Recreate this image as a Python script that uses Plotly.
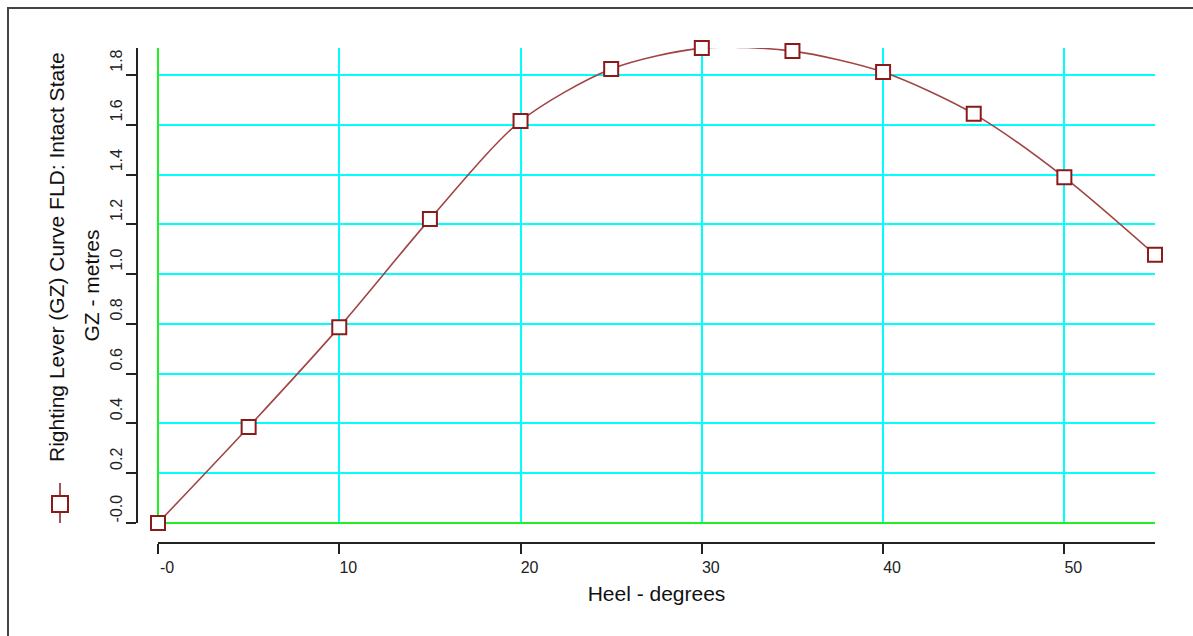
import plotly.graph_objects as go

# ---- data ----
heel_deg = [0, 5, 10, 15, 20, 25, 30, 35, 40, 45, 50, 55]
gz_m = [0.0, 0.386, 0.787, 1.221, 1.615, 1.824, 1.908, 1.896, 1.812, 1.644, 1.389, 1.078]
x_tickvals = [0, 10, 20, 30, 40, 50]
x_ticktext = ["-0", "10", "20", "30", "40", "50"]
y_tickvals = [0.0, 0.2, 0.4, 0.6, 0.8, 1.0, 1.2, 1.4, 1.6, 1.8]
y_ticktext = ["-0.0", "0.2", "0.4", "0.6", "0.8", "1.0", "1.2", "1.4", "1.6", "1.8"]
series_name = "Righting Lever (GZ) Curve FLD: Intact State"
x_title = "Heel - degrees"
y_title = "GZ - metres"

# ---- layout geometry (pixels) ----
W, H = 1193, 636
PL, PR, PT, PB = 137, 1155, 48, 543   # plot area edges
XD0 = 158                              # x domain start
YD0 = 523                              # y domain bottom
pw, ph = PR - PL, PB - PT

def px(xp):
    return (xp - PL) / pw

def py(yp):
    return (PB - yp) / ph

FONT = "Liberation Sans, Arial, sans-serif"
RED = "#8b1a1a"

fig = go.Figure()
fig.add_trace(go.Scatter(
    x=heel_deg, y=gz_m, name=series_name, mode="lines+markers",
    line=dict(color="#a04545", width=1.6, shape="spline", smoothing=0.8),
    marker=dict(symbol="square", size=14, color="white",
                line=dict(color=RED, width=2)),
    showlegend=False, cliponaxis=False,
))

fig.update_layout(
    width=W, height=H,
    margin=dict(l=PL, r=W - PR, t=PT, b=H - PB, pad=0),
    paper_bgcolor="white", plot_bgcolor="white",
    font=dict(family=FONT, color="#111"),
    xaxis=dict(
        domain=[px(XD0), 1], range=[0, 55], anchor="free", position=0,
        tickvals=x_tickvals, ticktext=x_ticktext,
        ticks="outside", ticklen=10, tickwidth=1.5, tickcolor="#222",
        showline=True, linecolor="#222", linewidth=1.5,
        showgrid=True, gridcolor="#00ffff", gridwidth=1.5,
        zeroline=True, zerolinecolor="#22ee22", zerolinewidth=2,
        tickfont=dict(size=16, color="#222"), ticklabelshift=9,
        title=dict(text=x_title, font=dict(size=21, color="#111"), standoff=10),
    ),
    yaxis=dict(
        domain=[py(YD0), 1], range=[0, 1.9085], anchor="free", position=0,
        tickvals=y_tickvals, ticktext=y_ticktext, tickangle=-90,
        ticks="outside", ticklen=10, tickwidth=1.5, tickcolor="#222",
        showline=True, linecolor="#222", linewidth=1.5,
        showgrid=True, gridcolor="#00ffff", gridwidth=1.5,
        zeroline=True, zerolinecolor="#22ee22", zerolinewidth=2,
        tickfont=dict(size=16, color="#222"), ticklabelshift=-12,
        ticklabelstandoff=-2,
        title=dict(text=y_title, font=dict(size=21, color="#111"), standoff=1),
    ),
)

# rotated legend (text + symbol)
fig.add_annotation(
    xref="paper", yref="paper", x=px(56), y=py(257), text=series_name,
    textangle=-90, showarrow=False, font=dict(size=21, color="#111"),
    xanchor="center", yanchor="middle",
)
fig.add_shape(type="line", xref="paper", yref="paper",
              x0=px(60), x1=px(60), y0=py(523), y1=py(483),
              line=dict(color=RED, width=1.5))
fig.add_shape(type="rect", xref="paper", yref="paper",
              x0=px(52), x1=px(68), y0=py(512), y1=py(496),
              fillcolor="white", line=dict(color=RED, width=2))

# page border
fig.add_shape(type="rect", xref="paper", yref="paper",
              x0=px(8), x1=px(1240), y0=py(700), y1=py(8),
              line=dict(color="#444", width=2), layer="below")

fig.write_html("out.html", config={"displayModeBar": False},
               post_script="document.body.style.margin='0';")
